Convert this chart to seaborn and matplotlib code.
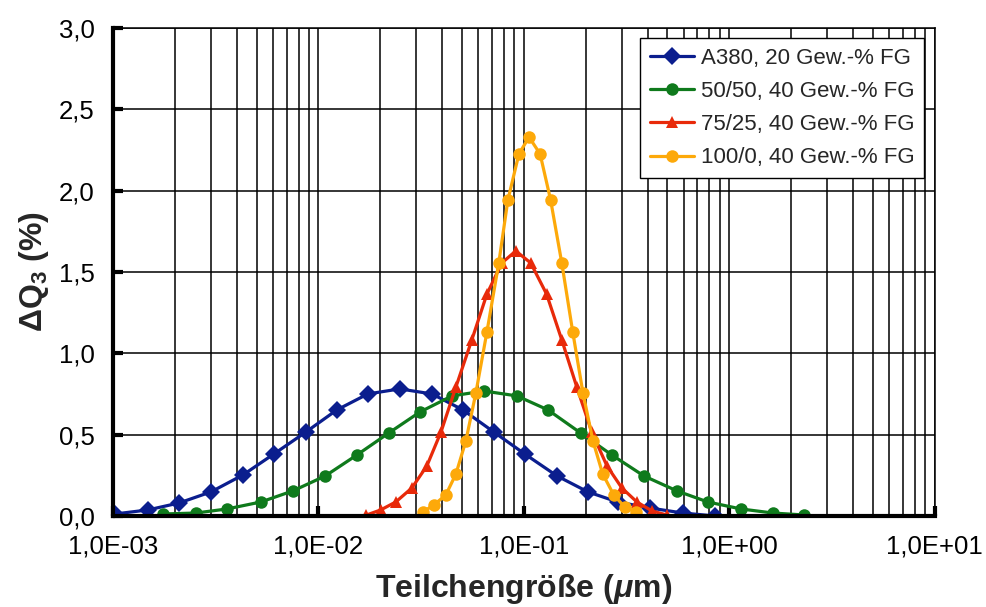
import numpy as np
import pandas as pd
import matplotlib
matplotlib.use("Agg")
import matplotlib.pyplot as plt
from matplotlib.ticker import FuncFormatter, LogLocator, MultipleLocator, NullFormatter
import seaborn as sns

# Messreihen (Teilchengröße in µm, Delta Q3 in %)
series_names = ["A380, 20 Gew.-% FG", "50/50, 40 Gew.-% FG",
                "75/25, 40 Gew.-% FG", "100/0, 40 Gew.-% FG"]

a380_x = [1.02e-3, 1.48e-3, 2.10e-3, 3.00e-3, 4.29e-3, 6.07e-3, 8.69e-3, 1.23e-2,
          1.74e-2, 2.49e-2, 3.57e-2, 5.05e-2, 7.14e-2, 1.01e-1, 1.45e-1, 2.05e-1,
          2.86e-1, 4.10e-1, 5.94e-1, 8.50e-1]
a380_y = [0.012, 0.037, 0.080, 0.148, 0.252, 0.381, 0.516, 0.652, 0.750, 0.781,
          0.750, 0.652, 0.516, 0.381, 0.246, 0.148, 0.086, 0.049, 0.018, 0.0]

p5050_x = [1.75e-3, 2.53e-3, 3.59e-3, 5.25e-3, 7.51e-3, 1.08e-2, 1.54e-2, 2.20e-2,
           3.12e-2, 4.47e-2, 6.39e-2, 9.25e-2, 1.31e-1, 1.89e-1, 2.68e-1, 3.84e-1,
           5.56e-1, 7.86e-1, 1.14, 1.63, 2.31]
p5050_y = [0.012, 0.018, 0.043, 0.086, 0.154, 0.246, 0.375, 0.510, 0.639, 0.738,
           0.768, 0.738, 0.652, 0.510, 0.375, 0.246, 0.154, 0.086, 0.043, 0.018, 0.006]

p7525_x = [1.70e-2, 2.01e-2, 2.38e-2, 2.85e-2, 3.37e-2, 3.95e-2, 4.67e-2, 5.58e-2,
           6.61e-2, 7.81e-2, 9.14e-2, 1.08e-1, 1.29e-1, 1.53e-1, 1.81e-1, 2.14e-1,
           2.54e-1, 3.00e-1, 3.55e-1, 4.20e-1, 4.96e-1]
p7525_y = [0.004, 0.037, 0.086, 0.172, 0.307, 0.516, 0.793, 1.082, 1.364, 1.555,
           1.629, 1.555, 1.364, 1.082, 0.793, 0.516, 0.307, 0.172, 0.086, 0.031, 0.006]

p1000_x = [3.23e-2, 3.65e-2, 4.17e-2, 4.67e-2, 5.22e-2, 5.84e-2, 6.61e-2, 7.55e-2,
           8.36e-2, 9.46e-2, 1.06e-1, 1.20e-1, 1.35e-1, 1.53e-1, 1.73e-1, 1.94e-1,
           2.17e-1, 2.42e-1, 2.74e-1, 3.10e-1, 3.51e-1]
p1000_y = [0.025, 0.068, 0.129, 0.258, 0.461, 0.756, 1.131, 1.555, 1.942, 2.225,
           2.329, 2.225, 1.942, 1.555, 1.131, 0.756, 0.461, 0.258, 0.129, 0.055, 0.025]

colors = ["#0B1E8E", "#0F7A1C", "#E82A0A", "#FDA90A"]
marker_styles = ["D", "o", "^", "o"]

df = pd.concat([
    pd.DataFrame({"size": xs, "dq3": ys, "probe": name})
    for name, xs, ys in zip(series_names,
                            [a380_x, p5050_x, p7525_x, p1000_x],
                            [a380_y, p5050_y, p7525_y, p1000_y])
], ignore_index=True)

sns.set_theme(style="white")
plt.rcParams["font.family"] = ["Liberation Sans", "DejaVu Sans"]
plt.rcParams["mathtext.fontset"] = "custom"
plt.rcParams["mathtext.rm"] = "Liberation Sans:bold"
plt.rcParams["mathtext.bf"] = "Liberation Sans:bold"
plt.rcParams["mathtext.it"] = "Liberation Sans:bold:italic"

fig = plt.figure(figsize=(9.87, 6.07), dpi=100)
ax = fig.add_axes([0.1145, 0.150, 0.8325, 0.804])

sns.lineplot(
    data=df, x="size", y="dq3",
    hue="probe", style="probe",
    hue_order=series_names, style_order=series_names,
    palette=dict(zip(series_names, colors)),
    markers=dict(zip(series_names, marker_styles)),
    dashes=False, sort=False, estimator=None, errorbar=None,
    linewidth=2.3, markersize=9, markeredgewidth=0,
    ax=ax,
)

ax.set_xscale("log")
ax.set_xlim(1e-3, 1e1)
ax.set_ylim(0, 3.0)

ax.xaxis.set_major_locator(LogLocator(base=10, numticks=10))
ax.xaxis.set_minor_locator(LogLocator(base=10, subs=np.arange(2, 10), numticks=100))
ax.xaxis.set_minor_formatter(NullFormatter())
ax.xaxis.set_major_formatter(FuncFormatter(lambda v, p: f"{v:.1E}".replace(".", ",")))
ax.yaxis.set_major_locator(MultipleLocator(0.5))
ax.yaxis.set_major_formatter(FuncFormatter(lambda v, p: f"{v:.1f}".replace(".", ",")))

ax.grid(True, which="both", axis="x", color="black", linewidth=1.1)
ax.grid(True, which="major", axis="y", color="black", linewidth=1.1)
ax.set_axisbelow(True)

for side in ["left", "bottom"]:
    ax.spines[side].set_linewidth(3)
    ax.spines[side].set_color("black")
for side in ["top", "right"]:
    ax.spines[side].set_linewidth(1.1)
    ax.spines[side].set_color("black")

ax.tick_params(axis="both", which="major", direction="in", length=7, width=3,
               labelsize=18.5, colors="black", left=True, bottom=True)
ax.tick_params(axis="x", which="major", pad=13)
ax.tick_params(axis="y", which="major", pad=13)
ax.tick_params(axis="x", which="minor", length=0)

ax.set_xlabel(r"Teilchengröße ($\mu$m)", fontsize=23, fontweight="bold", labelpad=10)
ax.set_ylabel(r"$\Delta\mathrm{Q_3}$ (%)", fontsize=23, fontweight="bold", labelpad=6)

handles, labels = ax.get_legend_handles_labels()
ax.legend(handles, labels, loc="upper right", bbox_to_anchor=(0.9875, 0.98),
          frameon=True, fancybox=False, edgecolor="black", framealpha=1,
          fontsize=16, handlelength=2.0, handletextpad=0.3, labelspacing=0.55,
          borderpad=0.45, borderaxespad=0)
ax.get_legend().get_frame().set_linewidth(1.0)

fig.savefig("out.png", dpi=100)
